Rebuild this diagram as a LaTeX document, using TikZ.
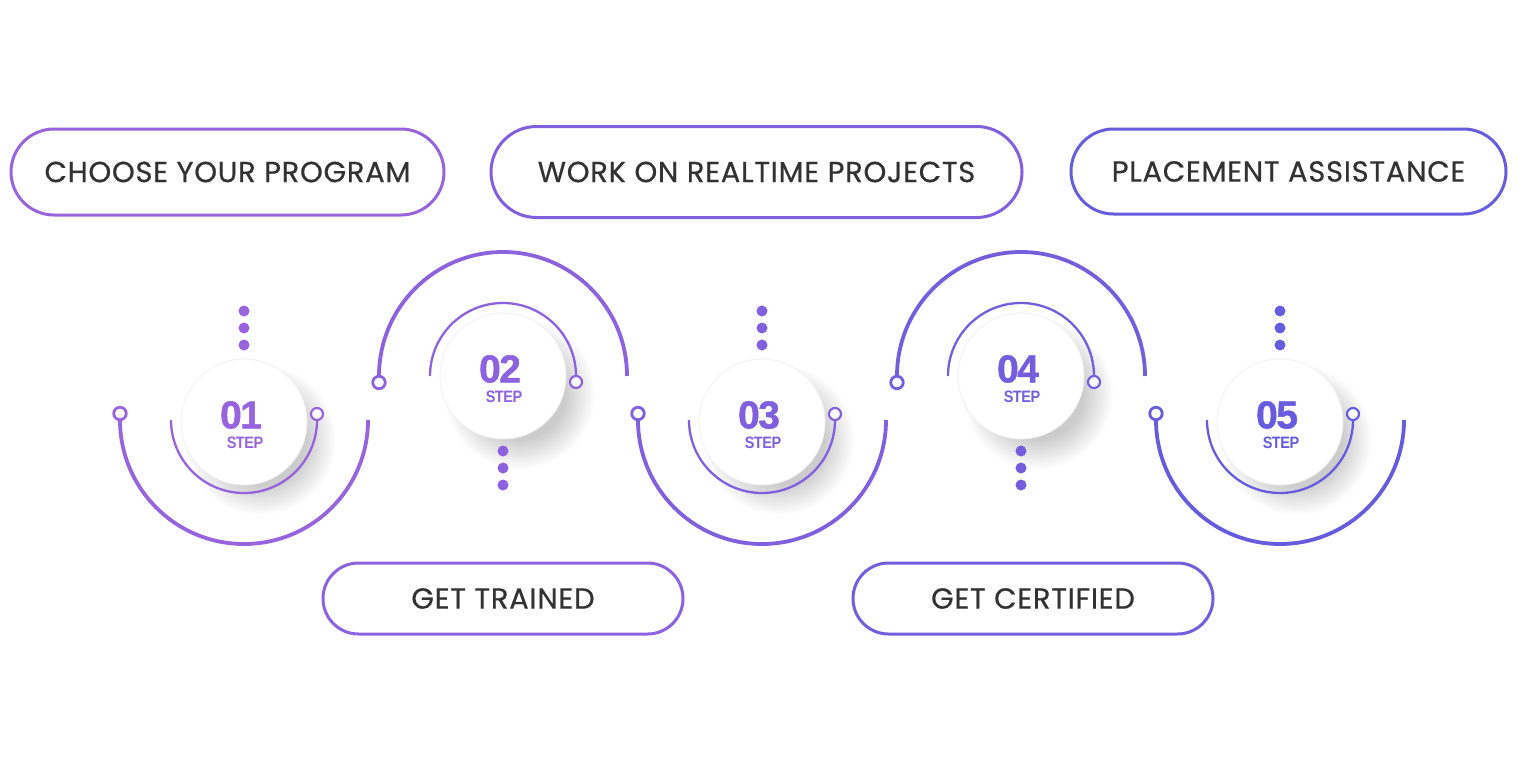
\documentclass[tikz,border=0pt]{standalone}
\usepackage{fontspec}
\setmainfont[LetterSpace=2.5,FakeBold=0.5]{Poppins}
\newfontfamily\numfont[LetterSpace=-4,FakeBold=1.2]{Liberation Sans}
\newfontfamily\stepfont[FakeStretch=0.88,LetterSpace=-3]{Liberation Sans}
\usetikzlibrary{shapes.misc}
\definecolor{pL}{RGB}{152,100,222}
\definecolor{pR}{RGB}{104,92,222}
\colorlet{c1}{pL}
\colorlet{c2}{pL!75!pR}
\colorlet{c3}{pL!50!pR}
\colorlet{c4}{pL!25!pR}
\colorlet{c5}{pR}
\definecolor{txt}{RGB}{50,50,50}
\tikzset{
  pill/.style={rounded rectangle, line width=3pt, fill=white, text=txt,
    font=\fontsize{29}{29}\selectfont, inner sep=0pt},
  outerarc/.style={line width=3.8pt},
  innerarc/.style={line width=2.3pt},
  ringend/.style={circle, line width=2.8pt, fill=white, minimum size=12.5pt, inner sep=0pt},
  stepdisc/.style={circle, fill=white, draw=black!6, line width=0.8pt, minimum size=126pt, inner sep=0pt},
  dotmark/.style={circle, inner sep=0pt, minimum size=11pt},
  numtxt/.style={font=\numfont\bfseries\fontsize{39}{39}\selectfont},
  steptxt/.style={font=\stepfont\bfseries\fontsize{16.5}{16.5}\selectfont}
}
\begin{document}
\begin{tikzpicture}[x=1pt,y=-1pt]
\useasboundingbox (0,0) rectangle (1536,768);
\fill[white] (0,0) rectangle (1536,768);

% pills
\node[pill, draw=c1, minimum width=433pt, minimum height=86pt] (p1) at (227.5,172) {CHOOSE YOUR PROGRAM};
\node[pill, draw=c3, minimum width=531pt, minimum height=91pt] (p2) at (756.5,172) {WORK ON REALTIME PROJECTS};
\node[pill, draw=c5, minimum width=435pt, minimum height=85pt] (p3) at (1288.5,171.5) {PLACEMENT ASSISTANCE};
\node[pill, draw=c2, minimum width=360pt, minimum height=71pt] (p4) at (503,598.5) {GET TRAINED};
\node[pill, draw=c4, minimum width=360pt, minimum height=71pt] (p5) at (1033,598.5) {GET CERTIFIED};

% steps
\foreach \i/\cx/\cy/\s/\col in {1/244/420/1/c1, 2/503/376/-1/c2, 3/762/420/1/c3, 4/1021/376/-1/c4, 5/1280/420/1/c5}{
  \pgfmathsetmacro{\ea}{180-180*\s}
  \pgfmathsetmacro{\dy}{\cy+(\s+1)}
  % soft shadow
  \foreach \k in {0,...,16}{
    \fill[black, opacity=0.013] (\cx+17,\dy+18) circle ({46+1.8*\k});
  }
  % arcs
  \coordinate (oa\i) at (\cx-124,\cy);
  \coordinate (ob\i) at (\cx+124,\cy);
  \coordinate (ia\i) at (\cx-73,\cy);
  \coordinate (ib\i) at (\cx+73,\cy);
  \draw[outerarc, draw=\col] (oa\i) arc[start angle=180, end angle=\ea, radius=124];
  \draw[innerarc, draw=\col] (ia\i) arc[start angle=180, end angle=\ea, radius=73];
  \node[ringend, draw=\col] (or\i) at (\cx-124,\cy-6.5*\s) {};
  \node[ringend, draw=\col, line width=2.2pt, minimum size=12pt] (ir\i) at (\cx+73,\cy-6*\s) {};
  % dots
  \foreach \d/\o in {a/75,b/92,c/109}{
    \node[dotmark, fill=\col] (d\i\d) at (\cx,\cy-\o*\s) {};
  }
  % disc
  \node[stepdisc] (s\i) at (\cx,\dy) {};
  \node[numtxt, text=\col] (n\i) at (\cx-3,\dy-7) {0\i};
  \node[steptxt, text=\col] (t\i) at (\cx+1,\dy+21) {STEP};
}
\end{tikzpicture}
\end{document}
